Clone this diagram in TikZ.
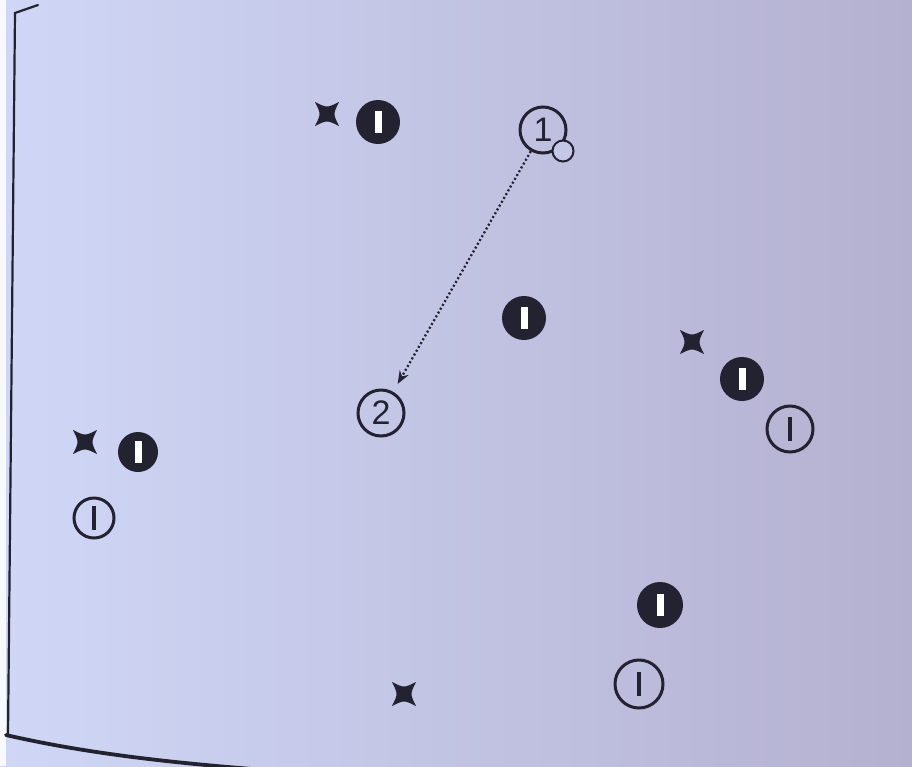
\documentclass[tikz,border=0pt]{standalone}
\usepackage{fontspec}
\setmainfont{Liberation Sans}
\usetikzlibrary{arrows.meta}
\definecolor{ink}{RGB}{34,34,48}
\definecolor{bgL}{RGB}{208,215,246}
\definecolor{bgR}{RGB}{180,176,208}
\newcommand{\wbar}{\textcolor{white}{\rule[-11pt]{7pt}{22pt}}}
\newcommand{\kbar}{\textcolor{ink}{\rule[-12pt]{4.5pt}{24pt}}}
\tikzset{
  player/.style={circle, fill=ink, inner sep=0pt, minimum size=44pt},
  opener/.style={circle, draw=ink, line width=3pt, inner sep=0pt, minimum size=44pt},
  numcirc/.style={circle, draw=ink, line width=3pt, inner sep=0pt, minimum size=46pt,
    font=\fontsize{34}{34}\selectfont, text=ink},
  ballc/.style={circle, draw=ink, fill=bgL!60!bgR, line width=2pt, inner sep=0pt, minimum size=21pt},
  pass/.style={ink, line width=2.3pt, dash pattern=on 2pt off 2.4pt,
    -{Stealth[length=13pt,width=10pt]}},
  frame/.style={ink, line cap=round},
  star4/.pic={\fill[ink] (45:17) .. controls (90:6) .. (135:17) .. controls (180:6) .. (225:17)
     .. controls (270:6) .. (315:17) .. controls (0:6) .. cycle;}
}
\begin{document}
\begin{tikzpicture}[x=1pt,y=-1pt]
\useasboundingbox (0,0) rectangle (912,766);
\shade[left color=bgL, right color=bgR] (0,0) rectangle (912,766);
\fill[white!85!bgL] (0,0) rectangle (6,766);
% frame of the page
\draw[frame, line width=2.2pt] (38,5) -- (15,13) -- (8,736);
\draw[frame, line width=3.8pt] (6,735) .. controls (80,752) and (160,762) .. (265,770);
% top group
\pic (sA) at (327,114) {star4};
\node[player] (pA) at (378,122) {\wbar};
\node[numcirc] (n1) at (543,130) {1};
\node[ballc] (ball) at (563,151) {};
% middle
\node[player] (pB) at (524,318) {\wbar};
\node[numcirc] (n2) at (381,413) {2};
% right group
\pic (sB) at (692,342) {star4};
\node[player] (pC) at (742,379) {\wbar};
\node[opener, minimum size=46pt] (oC) at (790,429) {\kbar};
% left group
\pic (sC) at (85,442) {star4};
\node[player, minimum size=40pt] (pD) at (138,452) {\wbar};
\node[opener, minimum size=40pt] (oD) at (94,518) {\kbar};
% bottom group
\node[player, minimum size=46pt] (pE) at (660,605) {\wbar};
\node[opener, minimum size=48pt] (oE) at (639,684) {\kbar};
\pic (sD) at (404,694) {star4};
% pass
\draw[pass, shorten >=9pt] (n1) -- (n2);
\end{tikzpicture}
\end{document}
